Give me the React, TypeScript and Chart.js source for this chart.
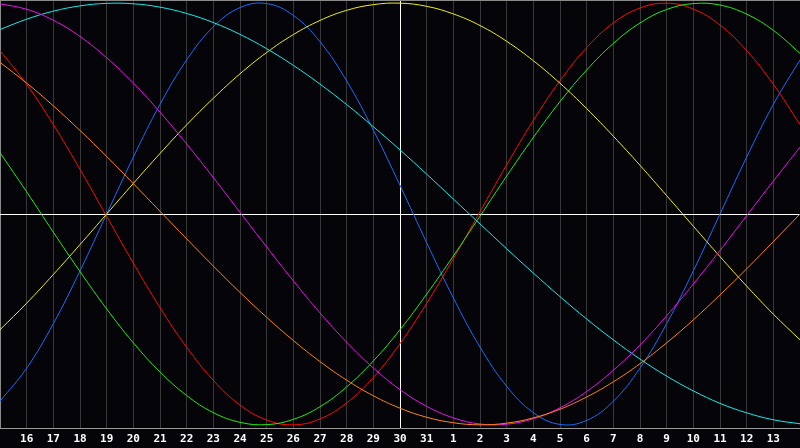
import React, { useEffect, useRef } from "react";
import { Chart, registerables } from "chart.js";

Chart.register(...registerables);

const dayLabels = [
  "15", "16", "17", "18", "19", "20", "21", "22", "23", "24", "25", "26", "27", "28", "29", "30",
  "31", "1", "2", "3", "4", "5", "6", "7", "8", "9", "10", "11", "12", "13", "14",
];
const todayIndex = 15;

const physical = [
  -0.888, -0.731, -0.52, -0.27, 0, 0.27, 0.52, 0.731, 0.888, 0.979, 0.998, 0.942, 0.817, 0.631, 0.398, 0.136,
  -0.136, -0.398, -0.631, -0.817, -0.942, -0.998, -0.979, -0.888, -0.731, -0.52, -0.27, 0, 0.27, 0.52, 0.731,
];
const emotional = [
  0.775, 0.615, 0.424, 0.212, -0.011, -0.233, -0.444, -0.632, -0.789, -0.906, -0.977, -1.0, -0.972, -0.896, -0.775, -0.615,
  -0.424, -0.212, 0.011, 0.233, 0.444, 0.632, 0.789, 0.906, 0.977, 1.0, 0.972, 0.896, 0.775, 0.615, 0.424,
];
const intellectual = [
  0.291, 0.105, -0.086, -0.273, -0.45, -0.611, -0.749, -0.861, -0.942, -0.988, -0.999, -0.974, -0.914, -0.82, -0.697, -0.549,
  -0.38, -0.199, -0.01, 0.18, 0.363, 0.533, 0.683, 0.809, 0.906, 0.97, 0.998, 0.991, 0.948, 0.871, 0.762,
];
const aesthetic = [
  -0.549, -0.423, -0.287, -0.145, 0, 0.145, 0.287, 0.423, 0.549, 0.665, 0.766, 0.851, 0.918, 0.966, 0.993, 1.0,
  0.985, 0.949, 0.894, 0.819, 0.727, 0.62, 0.5, 0.369, 0.231, 0.087, -0.058, -0.202, -0.342, -0.475, -0.597,
];
const spiritual = [
  0.875, 0.924, 0.962, 0.987, 0.999, 0.997, 0.981, 0.951, 0.908, 0.852, 0.784, 0.705, 0.616, 0.519, 0.414, 0.304,
  0.189, 0.071, -0.047, -0.165, -0.28, -0.392, -0.498, -0.597, -0.688, -0.769, -0.839, -0.898, -0.943, -0.976, -0.995,
];
const intuitive = [
  0.997, 0.971, 0.919, 0.842, 0.741, 0.621, 0.483, 0.332, 0.173, 0.008, -0.156, -0.317, -0.469, -0.608, -0.73, -0.833,
  -0.912, -0.967, -0.996, -0.997, -0.971, -0.919, -0.842, -0.741, -0.621, -0.483, -0.332, -0.173, -0.008, 0.156, 0.317,
];
const awareness = [
  0.719, 0.621, 0.513, 0.396, 0.273, 0.144, 0.013, -0.118, -0.247, -0.372, -0.49, -0.6, -0.7, -0.788, -0.862, -0.921,
  -0.964, -0.99, -1.0, -0.992, -0.967, -0.926, -0.868, -0.796, -0.71, -0.611, -0.502, -0.384, -0.26, -0.131, 0.0,
];

const seriesNames = ["Awareness", "Intuitive", "Spiritual", "Aesthetic", "Intellectual", "Emotional", "Physical"];
const seriesData = [awareness, intuitive, spiritual, aesthetic, intellectual, emotional, physical];
const seriesColors = ["#ff8411", "#f010f0", "#14ecec", "#f0f014", "#22ee10", "#ff0a0a", "#1a6cff"];

const BG = "#050409";

const framePlugin = {
  id: "frame",
  beforeDraw(chart: any) {
    const ctx = chart.ctx;
    ctx.save();
    ctx.fillStyle = BG;
    ctx.fillRect(0, 0, chart.width, chart.height);
    ctx.restore();
  },
  beforeDatasetsDraw(chart: any) {
    const { ctx, chartArea } = chart;
    const y = chart.scales.y;
    const y0 = Math.round(y.getPixelForValue(0)) + 0.5;
    ctx.save();
    ctx.lineWidth = 1;
    ctx.strokeStyle = "#8a8a8a";
    ctx.beginPath();
    ctx.moveTo(chartArea.left, chartArea.top + 0.5);
    ctx.lineTo(chartArea.right, chartArea.top + 0.5);
    ctx.stroke();
    ctx.strokeStyle = "#ffffff";
    ctx.beginPath();
    ctx.moveTo(chartArea.left, y0);
    ctx.lineTo(chartArea.right, y0);
    ctx.stroke();
    ctx.restore();
  },
};

export default function App() {
  const ref = useRef<HTMLCanvasElement | null>(null);

  useEffect(() => {
    document.body.style.margin = "0";
    document.body.style.background = BG;
    if (!ref.current) return;
    const chart = new Chart(ref.current, {
      type: "line",
      data: {
        labels: dayLabels,
        datasets: seriesNames.map((name, i) => ({
          label: name,
          data: seriesData[i],
          borderColor: seriesColors[i],
          borderWidth: 1,
          pointRadius: 0,
          pointHoverRadius: 0,
          pointBorderWidth: 0,
          tension: 0.4,
          fill: false,
          clip: 2,
        })),
      },
      options: {
        animation: false,
        responsive: false,
        maintainAspectRatio: false,
        layout: { padding: 0, autoPadding: false },
        plugins: {
          legend: { display: false },
          tooltip: { enabled: false },
        },
        scales: {
          x: {
            type: "category",
            offset: false,
            afterFit: (scale: any) => {
              scale.height = 20;
            },
            grid: {
              drawTicks: true,
              tickLength: 5,
              tickColor: "rgba(0,0,0,0)",
              lineWidth: 1,
              color: (c: any) =>
                c.index === todayIndex ? "#ffffff" : c.index === 0 ? "#8a8a8a" : "#383838",
            },
            border: { display: true, color: "#9a9a9a", width: 1 },
            ticks: {
              autoSkip: false,
              maxRotation: 0,
              minRotation: 0,
              padding: 0,
              color: "#ffffff",
              font: { family: '"DejaVu Sans Mono"', size: 11, weight: "bold" },
              callback: (_v: any, i: number) =>
                i === 0 || i === dayLabels.length - 1 ? "" : dayLabels[i],
            },
          },
          y: {
            display: false,
            min: -1.015,
            max: 1.015,
          },
        },
      },
      plugins: [framePlugin],
    });
    return () => chart.destroy();
  }, []);

  return (
    <div style={{ width: 800, height: 448, background: BG }}>
      <canvas ref={ref} width={800} height={448} />
    </div>
  );
}
